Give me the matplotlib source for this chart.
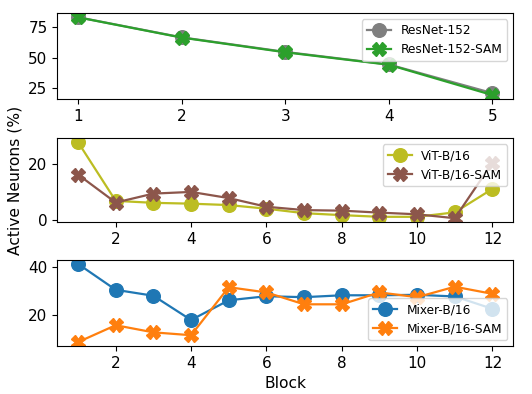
import matplotlib
matplotlib.use("Agg")
import matplotlib.pyplot as plt

resnet_blocks = [1, 2, 3, 4, 5]
resnet = [82.7, 66.4, 54.6, 44.4, 21.2]
resnet_sam = [82.6, 66.2, 54.3, 44.2, 19.6]

vit_blocks = list(range(1, 13))
vit = [27.9, 6.9, 6.2, 5.9, 5.4, 4.1, 2.5, 1.8, 1.2, 1.2, 2.8, 11.2]
vit_sam = [16.3, 6.3, 9.5, 10.1, 7.9, 4.8, 3.6, 3.4, 2.7, 2.1, 0.7, 20.6]

mixer_blocks = list(range(1, 13))
mixer = [41.5, 30.6, 28.1, 17.9, 26.2, 27.9, 27.5, 28.3, 28.3, 28.5, 27.8, 22.6]
mixer_sam = [8.6, 15.7, 12.7, 11.5, 31.7, 29.5, 24.5, 24.5, 29.5, 27.5, 31.9, 28.9]

fig = plt.figure(figsize=(5.32, 3.94), dpi=100)
left, width = 0.1077, 0.857
ax1 = fig.add_axes([left, 0.7487, width, 0.2175])
ax2 = fig.add_axes([left, 0.4365, width, 0.2124])
ax3 = fig.add_axes([left, 0.1218, width, 0.2183])

ms = 9.8
lw = 1.6
tfs = 11
labfs = 11.2
lfs = 8.7

ax1.plot(resnet_blocks, resnet, color="tab:gray", marker="o", ms=ms, lw=lw, label="ResNet-152")
ax1.plot(resnet_blocks, resnet_sam, color="tab:green", marker="X", ms=ms, lw=lw, label="ResNet-152-SAM")
ax1.set_xticks(resnet_blocks)
ax1.set_yticks([25, 50, 75])
ax1.legend(loc="upper right", fontsize=lfs)

ax2.plot(vit_blocks, vit, color="tab:olive", marker="o", ms=ms, lw=lw, label="ViT-B/16")
ax2.plot(vit_blocks, vit_sam, color="tab:brown", marker="X", ms=ms, lw=lw, label="ViT-B/16-SAM")
ax2.set_xticks([2, 4, 6, 8, 10, 12])
ax2.set_yticks([0, 20])
ax2.legend(loc="upper right", fontsize=lfs)
ax2.set_ylabel("Active Neurons (%)", fontsize=labfs)

ax3.plot(mixer_blocks, mixer, color="tab:blue", marker="o", ms=ms, lw=lw, label="Mixer-B/16")
ax3.plot(mixer_blocks, mixer_sam, color="tab:orange", marker="X", ms=ms, lw=lw, label="Mixer-B/16-SAM")
ax3.set_xticks([2, 4, 6, 8, 10, 12])
ax3.set_yticks([20, 40])
ax3.legend(loc="lower right", fontsize=lfs)
ax3.set_xlabel("Block", fontsize=labfs)

for ax in (ax1, ax2, ax3):
    ax.tick_params(labelsize=tfs)

fig.savefig("out.png", dpi=100)
